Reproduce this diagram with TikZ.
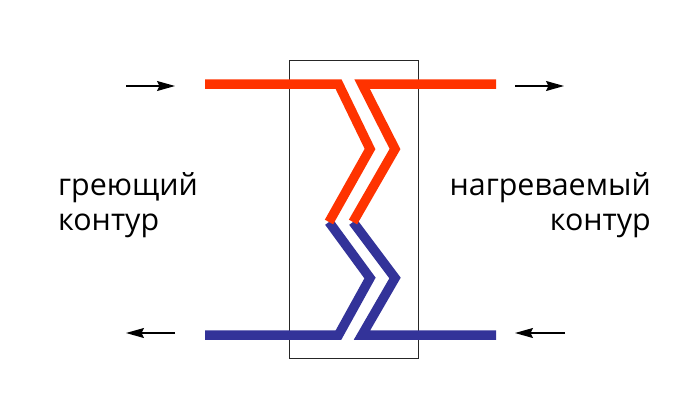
\documentclass[tikz,border=0pt]{standalone}
\usepackage{fontspec}
\setmainfont{Open Sans}
\usepackage{xcolor}
\usetikzlibrary{arrows.meta}
\definecolor{hotred}{HTML}{FF3300}
\definecolor{coldblue}{HTML}{333399}
\tikzset{
  pipered/.style={line width=9.5pt,hotred,miter limit=3},
  pipeblue/.style={line width=9.5pt,coldblue,miter limit=3},
  flow/.style={-{Stealth[length=18pt,width=10pt,inset=2.5pt]},line width=1.3pt,black},
  lbl/.style={font=\fontsize{30.4}{35}\selectfont,inner sep=0pt}
}

\begin{document}
\begin{tikzpicture}[x=1pt,y=-1pt]
\useasboundingbox (0,0) rectangle (700,407);

\coordinate (hl0) at (205,84);
\coordinate (hl1) at (338.5,84);
\coordinate (hl2) at (370,149);
\coordinate (hl3) at (329,222);
\coordinate (hr0) at (496,84);
\coordinate (hr1) at (362,84);
\coordinate (hr2) at (395,149);
\coordinate (hr3) at (353,222);

\coordinate (cl1) at (370,278);
\coordinate (cl2) at (338.5,335);
\coordinate (cl3) at (205,335);
\coordinate (cr1) at (395,278);
\coordinate (cr2) at (362,335);
\coordinate (cr3) at (496,335);

\draw[line width=1pt,black!85] (289.5,60) rectangle (418.7,358);

\draw[pipeblue] (hl3) -- (cl1) -- (cl2) -- (cl3);
\draw[pipeblue] (hr3) -- (cr1) -- (cr2) -- (cr3);

\draw[pipered] (hl0) -- (hl1) -- (hl2) -- (hl3);
\draw[pipered] (hr0) -- (hr1) -- (hr2) -- (hr3);

\coordinate (a1) at (126,86);
\coordinate (a2) at (175,86);
\coordinate (b1) at (515,86);
\coordinate (b2) at (564,86);
\coordinate (c1) at (175,333);
\coordinate (c2) at (126,333);
\coordinate (d1) at (565,333);
\coordinate (d2) at (515,333);

\draw[flow] (a1) -- (a2);
\draw[flow] (b1) -- (b2);
\draw[flow] (c1) -- (c2);
\draw[flow] (d1) -- (d2);

\node[lbl,align=left,anchor=west] (hotlabel) at (58,205) {греющий\\контур};
\node[lbl,align=right,anchor=east] (coldlabel) at (651,205) {нагреваемый\\контур};

\end{tikzpicture}
\end{document}
